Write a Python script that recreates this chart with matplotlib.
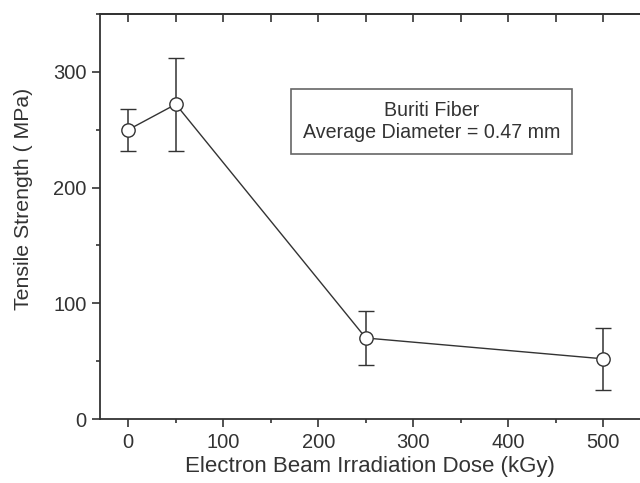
import matplotlib
matplotlib.use("Agg")
import matplotlib.pyplot as plt
from matplotlib.ticker import MultipleLocator

plt.rcParams["font.family"] = ["Liberation Sans", "DejaVu Sans"]

dose = [0, 50, 250, 500]
strength = [250, 272, 70, 52]
err_low = [18, 40, 23, 27]
err_high = [18, 40, 23, 27]

ink = "#333333"

fig = plt.figure(figsize=(6.4, 4.83), dpi=100)
ax = fig.add_axes([0.15625, 0.1325, 0.84375, 0.8385])

ax.errorbar(dose, strength, yerr=[err_low, err_high], color=ink, linewidth=1,
            elinewidth=1.1, capsize=6, capthick=1.1, marker="o", markersize=9.6,
            markerfacecolor="white", markeredgecolor=ink, markeredgewidth=1)

ax.set_xlim(-29.8, 538.6)
ax.set_ylim(0, 350)
ax.xaxis.set_major_locator(MultipleLocator(100))
ax.xaxis.set_minor_locator(MultipleLocator(50))
ax.yaxis.set_major_locator(MultipleLocator(100))
ax.yaxis.set_minor_locator(MultipleLocator(50))
ax.tick_params(which="both", direction="out", colors=ink, labelsize=14.5, width=1.2)
ax.tick_params(which="major", length=5.8, pad=4)
ax.tick_params(which="minor", length=3)
ax.spines["right"].set_visible(False)
for s in ["left", "bottom", "top"]:
    ax.spines[s].set_linewidth(1.3)
    ax.spines[s].set_color(ink)

# top axis: ticks every 50 pointing inward, no labels
top = ax.secondary_xaxis("top")
top.xaxis.set_major_locator(MultipleLocator(50))
top.tick_params(direction="in", length=6, width=1.2, colors=ink, labeltop=False)
top.spines["top"].set_linewidth(1.3)
top.spines["top"].set_color(ink)

ax.set_xlabel("Electron Beam Irradiation Dose (kGy)", fontsize=16, color=ink, labelpad=3)
ax.set_ylabel("Tensile Strength ( MPa)", fontsize=15.3, color=ink)
ax.yaxis.set_label_coords(-0.124, 0.543)

ax.text(319, 257, "Buriti Fiber\nAverage Diameter = 0.47 mm",
        ha="center", va="center", fontsize=14.1, color=ink, linespacing=1.25,
        bbox=dict(boxstyle="square,pad=0.6", facecolor="white", edgecolor="#666666", linewidth=1.2))

fig.savefig("out.png", dpi=100)
